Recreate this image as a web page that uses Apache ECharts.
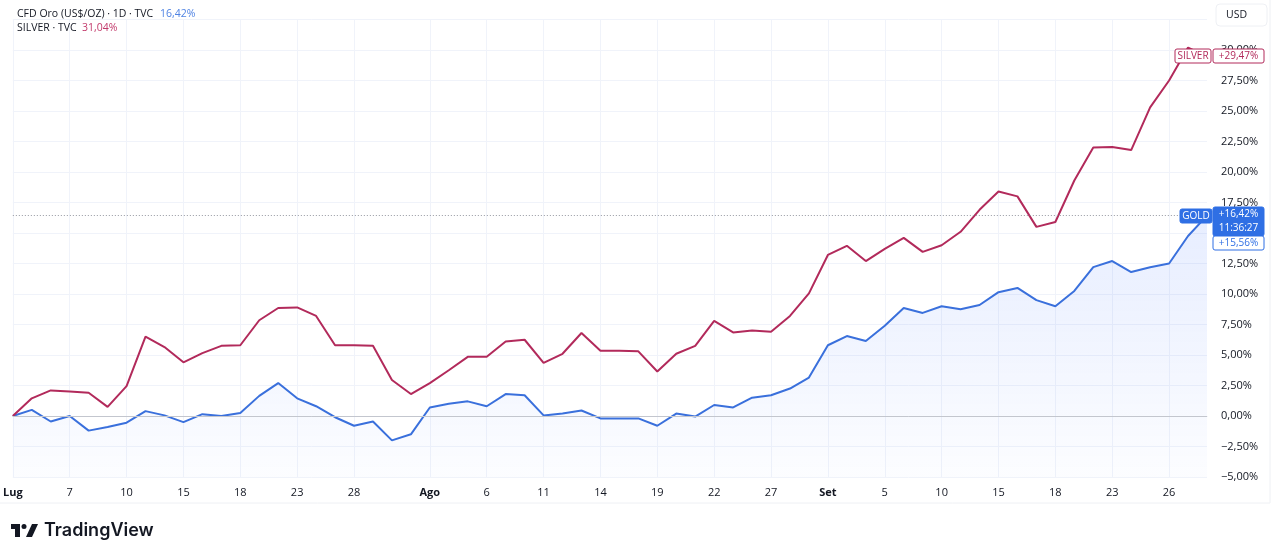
<!DOCTYPE html>
<html>
<head>
<meta charset="utf-8">
<script src="https://cdn.jsdelivr.net/npm/echarts@6/dist/echarts.min.js"></script>
<style>
  html, body { margin: 0; padding: 0; background: #ffffff; }
  #chart { width: 1280px; height: 557px; }
</style>
</head>
<body>
<div id="chart"></div>
<script>
const varFont = 'Open Sans';

// trading days, Jul 1 - Sep 30
const categories = [
    '01/07', '02/07', '03/07', '07/07', '08/07', '09/07', '10/07', '11/07', '14/07', '15/07', '16/07',
    '17/07', '18/07', '21/07', '22/07', '23/07', '24/07', '25/07', '28/07', '29/07', '30/07', '31/07',
    '01/08', '04/08', '05/08', '06/08', '07/08', '08/08', '11/08', '12/08', '13/08', '14/08', '15/08',
    '18/08', '19/08', '20/08', '21/08', '22/08', '25/08', '26/08', '27/08', '28/08', '29/08',
    '02/09', '03/09', '04/09', '05/09', '08/09', '09/09', '10/09', '11/09', '12/09', '15/09', '16/09',
    '17/09', '18/09', '19/09', '22/09', '23/09', '24/09', '25/09', '26/09', '29/09', '30/09'
];

const tickDates = ['01/07', '07/07', '10/07', '15/07', '18/07', '23/07', '28/07', '01/08', '06/08', '11/08', '14/08',
    '19/08', '22/08', '27/08', '02/09', '05/09', '10/09', '15/09', '18/09', '23/09', '26/09'];
const tickLabels = ['Lug', '7', '10', '15', '18', '23', '28', 'Ago', '6', '11', '14',
    '19', '22', '27', 'Set', '5', '10', '15', '18', '23', '26'];
const monthLabels = ['Lug', 'Ago', 'Set'];

// % change from Jul 1
const goldValues = [
    0, 0.5, -0.45, 0, -1.2, -0.9, -0.55, 0.4, 0.05, -0.5, 0.15, 0, 0.25, 1.65, 2.7, 1.45, 0.8, -0.1, -0.8, -0.45, -2.0, -1.5,
    0.7, 1.0, 1.2, 0.8, 1.8, 1.7, 0.05, 0.2, 0.45, -0.2, -0.2, -0.2, -0.8, 0.2, -0.05, 0.9, 0.7, 1.5, 1.7, 2.25, 3.15,
    5.8, 6.55, 6.15, 7.4, 8.85, 8.45, 9.0, 8.75, 9.1, 10.15, 10.5, 9.5, 9.0, 10.25, 12.2, 12.7, 11.8, 12.2, 12.5, 14.75, 16.42
];
const silverValues = [
    0, 1.45, 2.1, 2.0, 1.9, 0.75, 2.45, 6.5, 5.65, 4.4, 5.15, 5.75, 5.8, 7.85, 8.85, 8.9, 8.2, 5.8, 5.8, 5.75, 2.95, 1.8,
    2.7, 3.75, 4.85, 4.85, 6.1, 6.25, 4.35, 5.1, 6.8, 5.35, 5.35, 5.3, 3.65, 5.1, 5.75, 7.8, 6.85, 7.0, 6.9, 8.2, 10.05,
    13.2, 13.95, 12.7, 13.7, 14.6, 13.45, 14.0, 15.1, 16.9, 18.4, 18.0, 15.5, 15.9, 19.3, 22.0, 22.05, 21.8, 25.3, 27.5, 30.2, 29.47
];

const goldColor = '#3a70dc';
const silverColor = '#b22a5b';

function pct(v) {
    let s = Math.abs(v).toFixed(2).replace('.', ',') + '%';
    return v < 0 ? '\u2212' + s : s;
}

function isTick(index) {
    return tickDates.indexOf(categories[index]) >= 0;
}

var myChart = echarts.init(document.getElementById('chart'));

var option = {
    animation: false,
    textStyle: { fontFamily: varFont },
    grid: { left: 10, right: 73, top: 19.5, bottom: 80 },
    xAxis: {
        type: 'category',
        boundaryGap: false,
        data: categories,
        axisTick: { show: false },
        axisLine: { lineStyle: { color: '#e0e3eb' } },
        axisLabel: {
            interval: (i) => isTick(i),
            margin: 10,
            fontSize: 11,
            color: '#131722',
            formatter: (val) => {
                let t = tickLabels[tickDates.indexOf(val)];
                return monthLabels.indexOf(t) >= 0 ? '{b|' + t + '}' : t;
            },
            rich: { b: { fontWeight: 'bold', fontSize: 11, color: '#131722' } }
        },
        splitLine: {
            show: true,
            interval: (i) => isTick(i),
            lineStyle: { color: '#f0f3fa' }
        }
    },
    yAxis: {
        type: 'value',
        position: 'right',
        min: -5,
        max: 32.5,
        interval: 2.5,
        axisLine: { show: false },
        axisTick: { show: false },
        axisLabel: {
            margin: 14,
            align: 'left',
            fontSize: 11,
            color: '#131722',
            formatter: (v) => (v > 30 ? '' : pct(v))
        },
        splitLine: { lineStyle: { color: '#f0f3fa' } }
    },
    series: [
        {
            name: 'GOLD',
            type: 'line',
            data: goldValues,
            symbol: 'none',
            lineStyle: { color: goldColor, width: 2 },
            areaStyle: {
                origin: 'start',
                color: new echarts.graphic.LinearGradient(0, 0, 0, 1, [
                    { offset: 0, color: 'rgba(41, 98, 255, 0.16)' },
                    { offset: 1, color: 'rgba(41, 98, 255, 0.02)' }
                ])
            },
            markLine: {
                silent: true,
                symbol: 'none',
                label: { show: false },
                data: [
                    { yAxis: 0, lineStyle: { color: '#c3c6ce', type: 'solid', width: 1 } },
                    { yAxis: goldValues[goldValues.length - 1], lineStyle: { color: '#9598a1', type: [1, 2], width: 1 } }
                ]
            }
        },
        {
            name: 'SILVER',
            type: 'line',
            data: silverValues,
            symbol: 'none',
            lineStyle: { color: silverColor, width: 2 }
        }
    ]
};

myChart.setOption(option);

// badges next to the price scale
const lastSilver = silverValues[silverValues.length - 1];
const lastGold = goldValues[goldValues.length - 1];
const ySilver = Math.round(myChart.convertToPixel({ yAxisIndex: 0 }, lastSilver));
const yGold = Math.round(myChart.convertToPixel({ yAxisIndex: 0 }, lastGold));

function badge(x, y, w, h, fill, stroke, texts, textColor) {
    let items = [{
        type: 'rect',
        z: 100,
        shape: { x: x, y: y, width: w, height: h, r: 2 },
        style: { fill: fill, stroke: stroke, lineWidth: 1 }
    }];
    texts.forEach((t, i) => {
        items.push({
            type: 'text',
            z: 101,
            x: x + w / 2,
            y: y + 7 + i * 14,
            style: { text: t, fill: textColor, fontSize: 10, fontFamily: varFont, align: 'center', verticalAlign: 'middle' }
        });
    });
    return items;
}

let graphics = [
    // header
    { type: 'text', x: 17, y: 14, style: { text: 'CFD Oro (US$/OZ) \u00b7 1D \u00b7 TVC', fill: '#131722', fontSize: 10.5, fontFamily: varFont, verticalAlign: 'middle' } },
    { type: 'text', x: 160, y: 14, style: { text: '16,42%', fill: '#4f83e3', fontSize: 10.5, fontFamily: varFont, verticalAlign: 'middle' } },
    { type: 'text', x: 17, y: 28, style: { text: 'SILVER \u00b7 TVC', fill: '#131722', fontSize: 10.5, fontFamily: varFont, verticalAlign: 'middle' } },
    { type: 'text', x: 82, y: 28, style: { text: '31,04%', fill: '#c23a6b', fontSize: 10.5, fontFamily: varFont, verticalAlign: 'middle' } },
    // USD box
    { type: 'rect', z: 100, shape: { x: 1216, y: 4, width: 51, height: 22, r: 4 }, style: { fill: '#fff', stroke: '#eef0f4' } },
    { type: 'text', z: 101, x: 1226, y: 15, style: { text: 'USD', fill: '#131722', fontSize: 10.5, fontFamily: varFont, verticalAlign: 'middle' } },
    // outer frame lines
    { type: 'line', shape: { x1: 0, y1: 503, x2: 1270, y2: 503 }, style: { stroke: '#eef0f4' } },
    { type: 'line', shape: { x1: 1270, y1: 0, x2: 1270, y2: 503 }, style: { stroke: '#eef0f4' } }
];

graphics = graphics
    .concat(badge(1175, ySilver - 7, 36, 14, '#ffffff', silverColor, ['SILVER'], silverColor))
    .concat(badge(1213, ySilver - 7, 51, 14, '#ffffff', silverColor, ['+' + pct(lastSilver)], silverColor))
    .concat(badge(1180, yGold - 7, 32, 14, '#2f6fe4', '#2f6fe4', ['GOLD'], '#ffffff'))
    .concat(badge(1213, yGold - 9, 51, 29, '#2f6fe4', '#2f6fe4', ['+' + pct(lastGold), '11:36:27'], '#ffffff'))
    .concat(badge(1213, yGold + 20, 51, 14, '#ffffff', '#2f6fe4', ['+15,56%'], '#2f6fe4'));

// TradingView logo
graphics.push(
    { type: 'rect', shape: { x: 11, y: 524, width: 9, height: 5 }, style: { fill: '#131722' } },
    { type: 'rect', shape: { x: 15, y: 524, width: 5, height: 13 }, style: { fill: '#131722' } },
    { type: 'circle', shape: { cx: 24, cy: 526.5, r: 2.5 }, style: { fill: '#131722' } },
    { type: 'polygon', shape: { points: [[32, 524], [38, 524], [32, 537], [26, 537]] }, style: { fill: '#131722' } },
    { type: 'text', x: 44, y: 531, style: { text: 'TradingView', fill: '#131722', fontSize: 18, fontWeight: 600, fontFamily: 'Inter', verticalAlign: 'middle' } }
);

myChart.setOption({ graphic: graphics });
</script>
</body>
</html>
